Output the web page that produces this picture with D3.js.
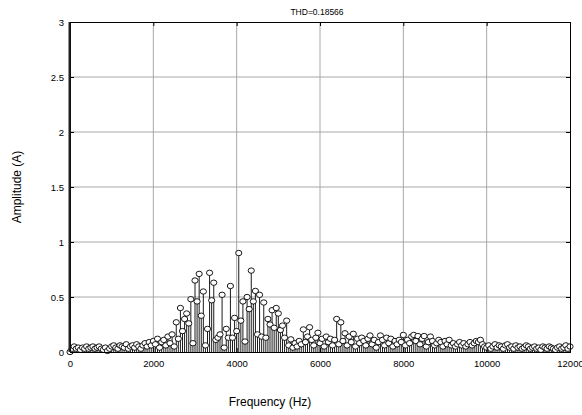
<!DOCTYPE html>
<html><head><meta charset="utf-8">
<script src="https://cdn.jsdelivr.net/npm/d3@7"></script>
<style>body{margin:0;background:#fff}svg{display:block}text{font-family:"Liberation Sans",Arial,sans-serif}</style>
</head><body>
<svg id="c" width="582" height="415"></svg>
<script>
const title = "THD=0.18566";
const xLabel = "Frequency (Hz)";
const yLabel = "Amplitude (A)";
const xTicks = [0, 2000, 4000, 6000, 8000, 10000, 12000];
const yTicks = [0, 0.5, 1, 1.5, 2, 2.5, 3];
const freqStep = 50; // Hz between spectral lines
const amplitudes = [
  0.00,0.03,0.05,0.03,0.04,0.02,0.04,0.03,0.05,0.03,
  0.04,0.05,0.03,0.04,0.05,0.03,0.02,0.04,0.01,0.03,
  0.05,0.06,0.04,0.03,0.06,0.05,0.04,0.07,0.03,0.05,
  0.06,0.04,0.07,0.05,0.03,0.06,0.08,0.05,0.09,0.06,
  0.10,0.07,0.12,0.04,0.09,0.11,0.06,0.14,0.08,0.16,
  0.05,0.27,0.12,0.40,0.19,0.30,0.35,0.26,0.48,0.08,
  0.65,0.46,0.71,0.33,0.55,0.06,0.21,0.72,0.47,0.63,
  0.11,0.13,0.16,0.52,0.04,0.21,0.13,0.60,0.13,0.31,
  0.19,0.90,0.285,0.46,0.095,0.50,0.39,0.74,0.46,0.555,
  0.16,0.52,0.14,0.45,0.13,0.30,0.25,0.38,0.22,0.40,
  0.35,0.20,0.24,0.13,0.285,0.06,0.115,0.04,0.08,0.05,
  0.10,0.07,0.205,0.09,0.14,0.225,0.11,0.06,0.13,0.175,
  0.08,0.12,0.05,0.14,0.09,0.12,0.06,0.11,0.30,0.07,
  0.27,0.10,0.17,0.06,0.14,0.09,0.165,0.05,0.12,0.08,
  0.13,0.10,0.06,0.12,0.15,0.07,0.11,0.04,0.09,0.15,
  0.11,0.06,0.13,0.08,0.12,0.05,0.10,0.07,0.11,0.09,
  0.155,0.06,0.11,0.08,0.14,0.155,0.10,0.145,0.07,0.12,
  0.145,0.05,0.09,0.14,0.10,0.06,0.08,0.11,0.09,0.05,
  0.10,0.07,0.11,0.06,0.08,0.05,0.07,0.09,0.06,0.08,
  0.05,0.07,0.09,0.06,0.08,0.10,0.09,0.11,0.07,0.05,
  0.04,0.06,0.03,0.05,0.07,0.04,0.06,0.05,0.03,0.06,
  0.07,0.04,0.05,0.03,0.06,0.04,0.05,0.03,0.04,0.06,
  0.05,0.03,0.04,0.05,0.03,0.04,0.02,0.05,0.04,0.03,
  0.05,0.04,0.03,0.02,0.04,0.05,0.03,0.04,0.06,0.03,
  0.05
];
const data = amplitudes.map((a, i) => ({f: i * freqStep, a}));

const svg = d3.select("#c");
const m = {l: 70, r: 570, t: 22, b: 352};
const x = d3.scaleLinear().domain([0, 12000]).range([m.l, m.r]);
const y = d3.scaleLinear().domain([0, 3]).range([m.b, m.t]);

// grid
const g = svg.append("g");
g.selectAll(".gx").data(xTicks.slice(1, -1)).join("line")
  .attr("x1", d => x(d)).attr("x2", d => x(d)).attr("y1", m.t).attr("y2", m.b)
  .attr("stroke", "#a8a8a8").attr("stroke-width", 1);
g.selectAll(".gy").data(yTicks.slice(1, -1)).join("line")
  .attr("y1", d => y(d)).attr("y2", d => y(d)).attr("x1", m.l).attr("x2", m.r)
  .attr("stroke", "#a8a8a8").attr("stroke-width", 1);

// stems
const st = svg.append("g");
st.selectAll("line").data(data).join("line")
  .attr("x1", d => x(d.f)).attr("x2", d => x(d.f))
  .attr("y1", y(0)).attr("y2", d => y(d.a))
  .attr("stroke", "#000").attr("stroke-width", 0.9);
st.selectAll("ellipse").data(data).join("ellipse")
  .attr("cx", d => x(d.f)).attr("cy", d => y(d.a))
  .attr("rx", 3.1).attr("ry", 2.7)
  .attr("fill", "#fff").attr("stroke", "#000").attr("stroke-width", 0.9);

// axes (box with inward ticks)
const fmt = d => String(d);
const axB = d3.axisBottom(x).tickValues(xTicks).tickSize(-4).tickPadding(8).tickFormat(fmt);
const axT = d3.axisTop(x).tickValues(xTicks).tickSize(-4).tickFormat("");
const axL = d3.axisLeft(y).tickValues(yTicks).tickSize(-4).tickPadding(6).tickFormat(fmt);
const axR = d3.axisRight(y).tickValues(yTicks).tickSize(-4).tickFormat("");
function style(sel) {
  sel.select(".domain").attr("stroke", "#000").attr("stroke-width", 1);
  sel.selectAll(".tick line").attr("stroke", "#000");
  sel.selectAll(".tick text").attr("fill", "#000").style("font-size", "9.5px")
    .style("font-family", '"Liberation Sans", Arial, sans-serif');
}
svg.append("g").attr("transform", `translate(0,${m.b})`).call(axB).call(style);
svg.append("g").attr("transform", `translate(0,${m.t})`).call(axT).call(style);
svg.append("g").attr("transform", `translate(${m.l},0)`).call(axL).call(style);
svg.append("g").attr("transform", `translate(${m.r},0)`).call(axR).call(style);
// heavier left edge
svg.append("line").attr("x1", m.l - 0.5).attr("x2", m.l - 0.5).attr("y1", m.t).attr("y2", m.b)
  .attr("stroke", "#222").attr("stroke-width", 2);

// labels
svg.append("text").attr("x", 317).attr("y", 15).attr("text-anchor", "middle")
  .style("font-size", "8.5px").text(title);
svg.append("text").attr("x", 270).attr("y", 406).attr("text-anchor", "middle")
  .style("font-size", "12px").text(xLabel);
svg.append("text").attr("transform", "translate(21,187) rotate(-90)").attr("text-anchor", "middle")
  .style("font-size", "12px").text(yLabel);
</script>
</body></html>
